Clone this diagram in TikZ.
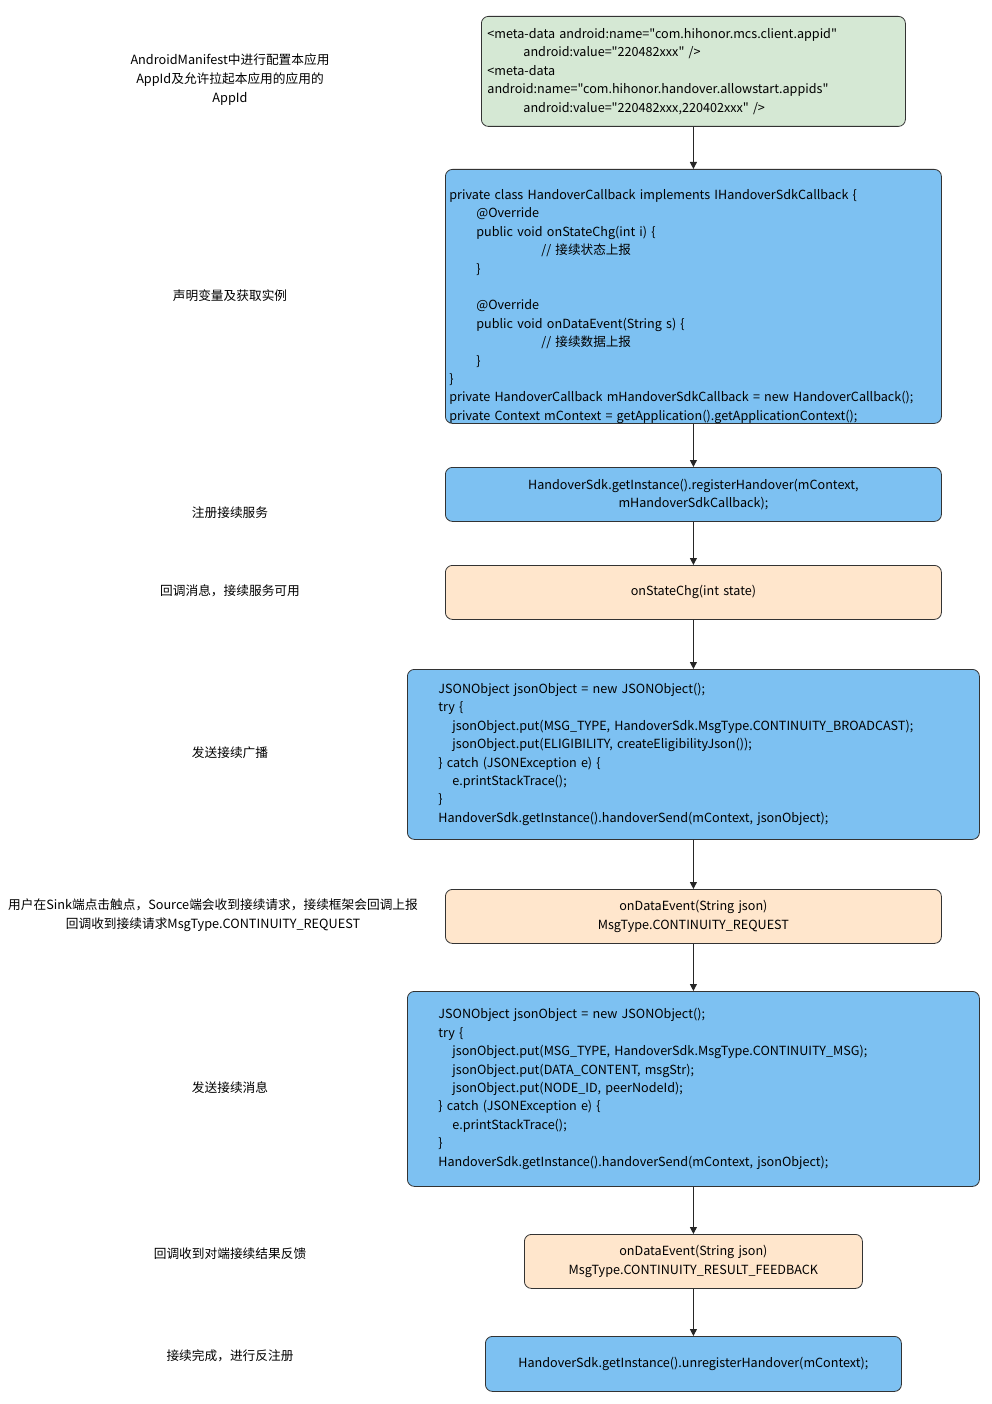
\documentclass[tikz,border=0pt]{standalone}
\usepackage{fontspec}
\setmainfont{Noto Sans CJK SC}[Ligatures=TeXOff]
\usetikzlibrary{arrows.meta}
\definecolor{codeblue}{HTML}{7DC1F2}
\definecolor{notegreen}{HTML}{D5E8D4}
\definecolor{eventorange}{HTML}{FFE6CC}
\newcommand{\codefont}{\fontsize{12.6}{18.4}\selectfont}
\newcommand{\labelfont}{\fontsize{12.7}{18.6}\selectfont}
\newcommand{\ind}[1]{\hspace*{#1pt}}
\tikzset{
  box/.style={draw=black!80, line width=0.8pt, rounded corners=7pt, anchor=north west,
    inner ysep=0pt, font=\codefont},
  codebox/.style={box, fill=codeblue},
  notebox/.style={box, fill=notegreen},
  eventbox/.style={box, fill=eventorange},
  steplabel/.style={font=\labelfont, align=center, inner sep=0pt},
  flow/.style={draw=black!85, line width=1pt, -{Triangle[width=7pt,length=7pt]}}
}
\begin{document}
\begin{tikzpicture}[x=1pt, y=-1pt]
   \useasboundingbox (0, 0) rectangle (991, 1404);

   % boxes on the right
   \node[notebox, text width=412pt, inner xsep=6pt, minimum height=110pt, align=left] (manifest) at (481, 16)
      {<meta-data android:name="com.hihonor.mcs.client.appid"\\
       \ind{36}android:value="220482xxx" />\\
       <meta-data\\
       android:name="com.hihonor.handover.allowstart.appids"\\
       \ind{36}android:value="220482xxx,220402xxx" />};
   \node[codebox, text width=488pt, inner xsep=4pt, minimum height=254pt, align=left] (callback) at (445, 169)
      {\rule{0pt}{30pt}private class HandoverCallback implements IHandoverSdkCallback \{\\
       \ind{27}@Override\\
       \ind{27}public void onStateChg(int i) \{\\
       \ind{92}// 接续状态上报\\
       \ind{27}\}\\
       \mbox{}\\
       \ind{27}@Override\\
       \ind{27}public void onDataEvent(String s) \{\\
       \ind{92}// 接续数据上报\\
       \ind{27}\}\\
       \}\\
       private HandoverCallback mHandoverSdkCallback = new HandoverCallback();\\
       private Context mContext = getApplication().getApplicationContext();};
   \node[codebox, text width=488pt, inner xsep=4pt, minimum height=54pt, align=center] (register) at (445, 467)
      {HandoverSdk.getInstance().registerHandover(mContext,\\ mHandoverSdkCallback);};
   \node[eventbox, text width=488pt, inner xsep=4pt, minimum height=54pt, align=center] (statechg) at (445, 565)
      {onStateChg(int state)};
   \node[codebox, text width=510pt, inner xsep=31pt, minimum height=170pt, align=left] (broadcast) at (407, 669)
      {JSONObject jsonObject = new JSONObject();\\
       try \{\\
       \ind{14}jsonObject.put(MSG\_TYPE, HandoverSdk.MsgType.CONTINUITY\_BROADCAST);\\
       \ind{14}jsonObject.put(ELIGIBILITY, createEligibilityJson());\\
       \} catch (JSONException e) \{\\
       \ind{14}e.printStackTrace();\\
       \}\\
       HandoverSdk.getInstance().handoverSend(mContext, jsonObject);};
   \node[eventbox, text width=488pt, inner xsep=4pt, minimum height=54pt, align=center] (request) at (445, 889)
      {onDataEvent(String json)\\ MsgType.CONTINUITY\_REQUEST};
   \node[codebox, text width=510pt, inner xsep=31pt, minimum height=195pt, align=left] (message) at (407, 991)
      {JSONObject jsonObject = new JSONObject();\\
       try \{\\
       \ind{14}jsonObject.put(MSG\_TYPE, HandoverSdk.MsgType.CONTINUITY\_MSG);\\
       \ind{14}jsonObject.put(DATA\_CONTENT, msgStr);\\
       \ind{14}jsonObject.put(NODE\_ID, peerNodeId);\\
       \} catch (JSONException e) \{\\
       \ind{14}e.printStackTrace();\\
       \}\\
       HandoverSdk.getInstance().handoverSend(mContext, jsonObject);};
   \node[eventbox, text width=330pt, inner xsep=4pt, minimum height=54pt, align=center] (feedback) at (524, 1234)
      {onDataEvent(String json)\\ MsgType.CONTINUITY\_RESULT\_FEEDBACK};
   \node[codebox, text width=408pt, inner xsep=4pt, minimum height=55pt, align=center] (unregister) at (485, 1336)
      {HandoverSdk.getInstance().unregisterHandover(mContext);};

   % arrows
   \draw[flow] (manifest.south) -- (callback.north);
   \draw[flow] (callback.south) -- (register.north);
   \draw[flow] (register.south) -- (statechg.north);
   \draw[flow] (statechg.south) -- (broadcast.north);
   \draw[flow] (broadcast.south) -- (request.north);
   \draw[flow] (request.south) -- (message.north);
   \draw[flow] (message.south) -- (feedback.north);
   \draw[flow] (feedback.south) -- (unregister.north);

   % labels on the left
   \node[steplabel] (lmanifest) at (230, 79.5) {AndroidManifest中进行配置本应用\\ AppId及允许拉起本应用的应用的\\ AppId};
   \node[steplabel] (lcallback) at (230, 296) {声明变量及获取实例};
   \node[steplabel] (lregister) at (230, 513) {注册接续服务};
   \node[steplabel] (lstatechg) at (230, 591) {回调消息，接续服务可用};
   \node[steplabel] (lbroadcast) at (230, 753) {发送接续广播};
   \node[steplabel] (lrequest) at (213, 915.5) {用户在Sink端点击触点，Source端会收到接续请求，接续框架会回调上报\\ 回调收到接续请求MsgType.CONTINUITY\_REQUEST};
   \node[steplabel] (lmessage) at (230, 1088) {发送接续消息};
   \node[steplabel] (lfeedback) at (230, 1254) {回调收到对端接续结果反馈};
   \node[steplabel] (lunregister) at (230, 1356) {接续完成，进行反注册};
\end{tikzpicture}
\end{document}
